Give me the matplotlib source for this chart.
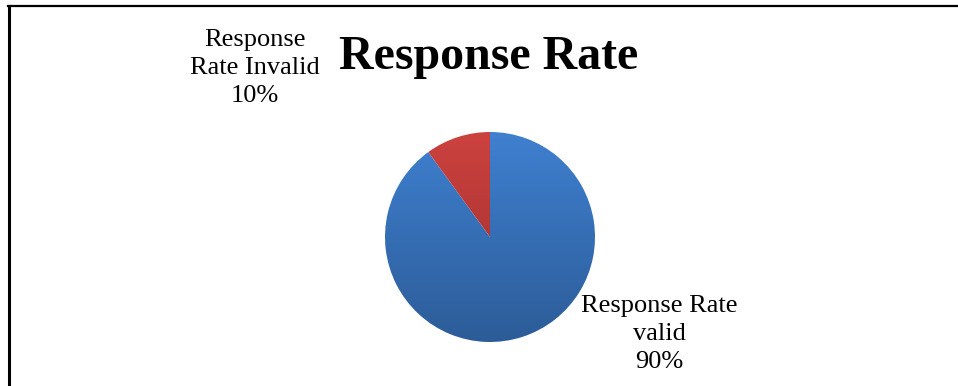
import matplotlib.pyplot as plt
import numpy as np
from matplotlib.colors import LinearSegmentedColormap
from matplotlib.lines import Line2D

labels = ['Response Rate valid', 'Response Rate Invalid']
shares = [90, 10]
label_texts = ['Response Rate\nvalid\n90%', 'Response\nRate Invalid\n10%']
top_colors = ['#3f80d0', '#cc423f']
bottom_colors = ['#2c5c98', '#9a2c2b']

W, H = 958, 386
fig = plt.figure(figsize=(W / 100, H / 100), dpi=100)
plt.rcParams['font.family'] = ['Liberation Serif', 'DejaVu Serif']

# pie centred at (490, 237) px with radius 105 px
cx, cy, r = 490, 237, 105
ax = fig.add_axes([(cx - r) / W, (H - cy - r) / H, 2 * r / W, 2 * r / H])
wedges, _ = ax.pie(shares, startangle=90, counterclock=False, radius=1,
                   wedgeprops=dict(linewidth=0))
ax.set_xlim(-1, 1)
ax.set_ylim(-1, 1)
ax.axis('off')

grad = np.linspace(0, 1, 256).reshape(-1, 1)
for w, c1, c2 in zip(wedges, top_colors, bottom_colors):
    cmap = LinearSegmentedColormap.from_list('g', [c1, c2])
    w.set_facecolor('none')
    im = ax.imshow(grad, cmap=cmap, extent=[-1, 1, -1, 1], origin='upper',
                   aspect='auto', zorder=1)
    im.set_clip_path(w)

fig.text(489 / W, 1 - 57 / H, 'Response Rate', ha='center', va='center',
         fontsize=34.5, fontweight='bold')
fig.text(255 / W, 1 - 68 / H, label_texts[1], ha='center', va='center',
         fontsize=19, linespacing=1.35)
fig.text(659 / W, 1 - 334 / H, label_texts[0], ha='center', va='center',
         fontsize=19, linespacing=1.35)

# chart frame: only left and top edges are visible
fig.add_artist(Line2D([9 / W, 9 / W], [0, 1 - 6 / H], color='black', lw=2.2,
                      transform=fig.transFigure))
fig.add_artist(Line2D([8 / W, 1], [1 - 6 / H, 1 - 6 / H], color='black', lw=1.6,
                      transform=fig.transFigure))

fig.savefig('out.png', dpi=100)
